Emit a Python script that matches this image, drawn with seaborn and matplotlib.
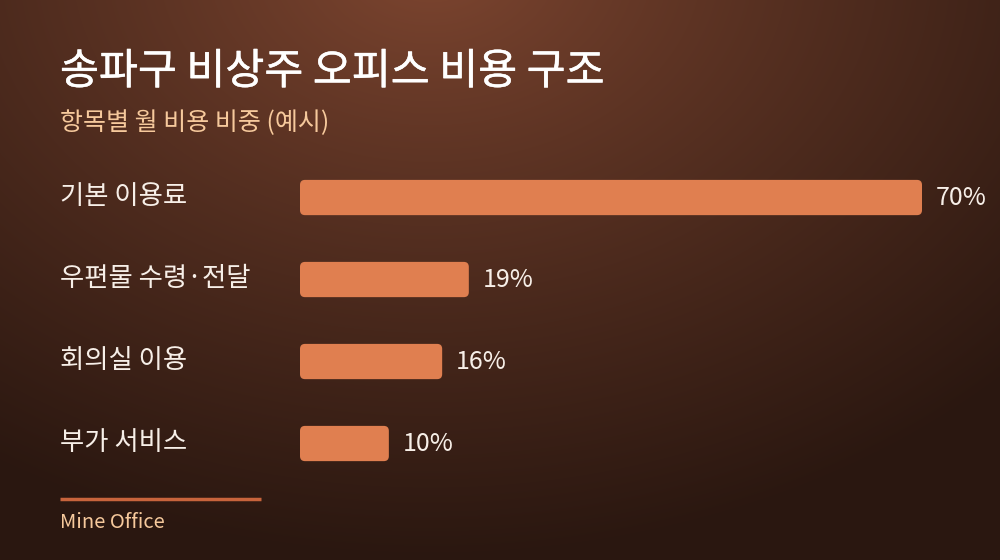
import matplotlib
matplotlib.use('Agg')
import matplotlib.pyplot as plt
import matplotlib.patheffects as pe
import numpy as np
import pandas as pd
import seaborn as sns
from matplotlib.patches import FancyBboxPatch

categories = ['기본 이용료', '우편물 수령·전달', '회의실 이용', '부가 서비스']
shares = [70, 19, 16, 10]
value_labels = ['70%', '19%', '16%', '10%']

title = '송파구 비상주 오피스 비용 구조'
subtitle = '항목별 월 비용 비중 (예시)'
footer = 'Mine Office'

BAR = '#e07f50'
SUB = '#f6c99c'

sns.set_style('white')
plt.rcParams['font.family'] = ['Noto Sans CJK KR', 'DejaVu Sans']

fig = plt.figure(figsize=(10, 5.6), dpi=100)

# background: radial glow from the top centre
bg = fig.add_axes([0, 0, 1, 1])
yy, xx = np.mgrid[0:560, 0:1000]
d = np.sqrt(((xx - 430) / 1.35) ** 2 + (yy + 40) ** 2)
t = np.clip(d / 600, 0, 1) ** 0.85
inner = np.array([0x80, 0x47, 0x31]) / 255
outer = np.array([0x2a, 0x17, 0x10]) / 255
img = inner[None, None, :] * (1 - t[..., None]) + outer[None, None, :] * t[..., None]
bg.imshow(img, extent=[0, 1, 0, 1], aspect='auto', origin='upper')
bg.axis('off')

df = pd.DataFrame({'item': categories, 'share': shares})

ax = fig.add_axes([0.300, 0.1348, 0.622, 0.5857])
ax.patch.set_alpha(0)
sns.barplot(data=df, x='share', y='item', orient='h', color=BAR, width=0.43,
            saturation=1, ax=ax)
ax.set_xlim(0, 70)
ax.set_ylim(3.5, -0.5)

# rounded bars
px_x = 622 / 70
px_y = 328 / 4
r = 5 / px_x
for p in list(ax.patches):
    x0, y0, w, h = p.get_x(), p.get_y(), p.get_width(), p.get_height()
    p.remove()
    ax.add_patch(FancyBboxPatch((x0, y0), w, h,
                                boxstyle=f'round,pad=0,rounding_size={r}',
                                mutation_aspect=px_x / px_y,
                                facecolor=BAR, edgecolor='none'))

for i, (v, lab) in enumerate(zip(shares, value_labels)):
    ax.text(v + 14 / px_x, i, lab, va='center', ha='left', color='#f7efe8',
            fontsize=18)

ax.set_xlabel('')
ax.set_ylabel('')
ax.set_xticks([])
ax.set_yticks([])
sns.despine(ax=ax, left=True, bottom=True)

# category labels on the left
for i, c in enumerate(categories):
    y = (560 - (196 + 82 * i)) / 560
    fig.text(0.060, y, c, ha='left', va='center', color='#f7efe8', fontsize=19)

fig.text(0.060, (560 - 72) / 560, title, ha='left', va='center', color='white',
         fontsize=30.5,
         path_effects=[pe.withStroke(linewidth=0.35, foreground='white')])
fig.text(0.060, (560 - 123) / 560, subtitle, ha='left', va='center', color=SUB,
         fontsize=18)

bg.plot([0.060, 0.261], [(560 - 499) / 560] * 2, color='#c8643c', lw=2.5,
        solid_capstyle='butt')
bg.set_xlim(0, 1)
bg.set_ylim(0, 1)
fig.text(0.060, (560 - 522) / 560, footer, ha='left', va='center', color=SUB,
         fontsize=14.5)

fig.savefig('out.png', dpi=100)
